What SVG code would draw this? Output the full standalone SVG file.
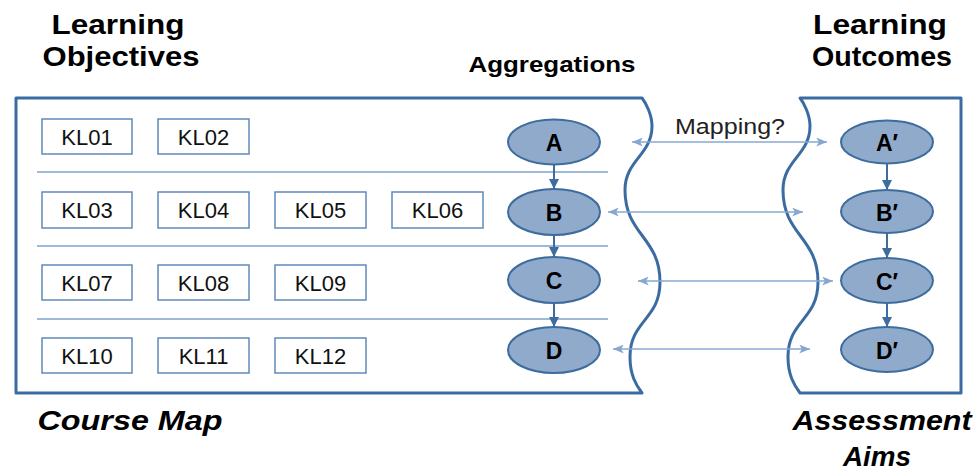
<svg xmlns="http://www.w3.org/2000/svg" width="973" height="473" viewBox="0 0 973 473">
  <style>
    .title { font-family: "Liberation Sans", Arial, sans-serif; font-weight: bold; font-size: 27px; fill: #000; text-anchor: middle; }
    .caption { font-family: "Liberation Sans", Arial, sans-serif; font-weight: bold; font-style: italic; font-size: 27px; fill: #000; text-anchor: middle; }
    .sub { font-family: "Liberation Sans", Arial, sans-serif; font-weight: bold; font-size: 22px; fill: #000; text-anchor: middle; }
    .frame { fill: none; stroke: #3b6ca1; stroke-width: 3; stroke-linejoin: round; }
    .sep { stroke: #7fa2cb; stroke-width: 1.5; }
    .kl rect { fill: #fff; stroke: #5f8aba; stroke-width: 1.5; }
    .kl text { font-family: "Liberation Sans", Arial, sans-serif; font-size: 22px; fill: #111; text-anchor: middle; }
    .agg ellipse { fill: #8faacb; stroke: #3d6c9e; stroke-width: 2; }
    .agg text { font-family: "Liberation Sans", Arial, sans-serif; font-weight: bold; font-size: 23px; fill: #000; text-anchor: middle; }
    .flow { stroke: #3d6c9e; stroke-width: 2; fill: none; marker-end: url(#head); }
    .map { stroke: #86a8d0; stroke-width: 1.5; fill: none; marker-start: url(#light); marker-end: url(#light); }
    .label { font-family: "Liberation Sans", Arial, sans-serif; font-size: 22px; fill: #222; }
  </style>
  <defs>
    <marker id="head" viewBox="0 0 10 10" refX="10" refY="5" markerWidth="10" markerHeight="10" markerUnits="userSpaceOnUse" orient="auto">
      <path d="M0,0 L10,5 L0,10 z" fill="#3d6c9e"/>
    </marker>
    <marker id="light" viewBox="0 0 12 10" refX="12" refY="5" markerWidth="12" markerHeight="9" markerUnits="userSpaceOnUse" orient="auto-start-reverse">
      <path d="M0,0 L12,5 L0,10 L3,5 z" fill="#86a8d0"/>
    </marker>
  </defs>

  <!-- headings -->
  <g id="headings">
    <text class="title" x="118" y="34" textLength="133" lengthAdjust="spacingAndGlyphs">Learning</text>
    <text class="title" x="121" y="66" textLength="157" lengthAdjust="spacingAndGlyphs">Objectives</text>
    <text class="sub" x="552" y="72" textLength="167" lengthAdjust="spacingAndGlyphs">Aggregations</text>
    <text class="title" x="880" y="34" textLength="134" lengthAdjust="spacingAndGlyphs">Learning</text>
    <text class="title" x="882" y="66" textLength="140" lengthAdjust="spacingAndGlyphs">Outcomes</text>
    <text class="caption" x="130" y="430" textLength="185" lengthAdjust="spacingAndGlyphs">Course Map</text>
    <text class="caption" x="882" y="430" textLength="179" lengthAdjust="spacingAndGlyphs">Assessment</text>
    <text class="caption" x="877" y="466" textLength="68" lengthAdjust="spacingAndGlyphs">Aims</text>
  </g>

  <!-- course map frame with torn right edge -->
  <g id="course-map">
    <path class="frame" d="M16,98 L642,98 C646,103 652,115 652,126 C652,155 625,160 625,190 C625,235 660,237 660,282 C660,320 630,320 630,357 C630,375 636,385 642,393 L16,393 Z"/>
    <line class="sep" x1="37" y1="172" x2="608" y2="172"/>
    <line class="sep" x1="37" y1="246" x2="608" y2="246"/>
    <line class="sep" x1="37" y1="319" x2="608" y2="319"/>
  </g>

  <!-- assessment frame with torn left edge -->
  <g id="assessment-aims">
    <path class="frame" d="M961,98 L800,98 C804,103 810,115 810,126 C810,155 783,160 783,190 C783,235 818,237 818,282 C818,320 788,320 788,357 C788,375 794,385 800,393 L961,393 Z"/>
  </g>

  <!-- learning objectives -->
  <g id="KL01" class="kl"><rect x="42" y="119" width="90" height="35"/><text x="87" y="145">KL01</text></g>
  <g id="KL02" class="kl"><rect x="158" y="119" width="91" height="35"/><text x="203.5" y="145">KL02</text></g>
  <g id="KL03" class="kl"><rect x="42" y="192" width="90" height="36"/><text x="87" y="218">KL03</text></g>
  <g id="KL04" class="kl"><rect x="158" y="192" width="91" height="36"/><text x="203.5" y="218">KL04</text></g>
  <g id="KL05" class="kl"><rect x="275" y="192" width="91" height="36"/><text x="320.5" y="218">KL05</text></g>
  <g id="KL06" class="kl"><rect x="392" y="192" width="91" height="36"/><text x="437.5" y="218">KL06</text></g>
  <g id="KL07" class="kl"><rect x="42" y="265" width="90" height="35"/><text x="87" y="291">KL07</text></g>
  <g id="KL08" class="kl"><rect x="158" y="265" width="91" height="35"/><text x="203.5" y="291">KL08</text></g>
  <g id="KL09" class="kl"><rect x="275" y="265" width="91" height="35"/><text x="320.5" y="291">KL09</text></g>
  <g id="KL10" class="kl"><rect x="42" y="338" width="90" height="35"/><text x="87" y="364">KL10</text></g>
  <g id="KL11" class="kl"><rect x="158" y="338" width="91" height="35"/><text x="203.5" y="364">KL11</text></g>
  <g id="KL12" class="kl"><rect x="275" y="338" width="91" height="35"/><text x="320.5" y="364">KL12</text></g>

  <!-- aggregations -->
  <g id="A" class="agg"><ellipse cx="554" cy="142" rx="46" ry="22.5"/><text x="554" y="151">A</text></g>
  <g id="B" class="agg"><ellipse cx="554" cy="212" rx="46" ry="23"/><text x="554" y="221">B</text></g>
  <g id="C" class="agg"><ellipse cx="554" cy="280" rx="46" ry="23"/><text x="554" y="289">C</text></g>
  <g id="D" class="agg"><ellipse cx="554" cy="350" rx="46" ry="23"/><text x="554" y="359">D</text></g>

  <!-- learning outcomes -->
  <g id="A-prime" class="agg"><ellipse cx="887" cy="142" rx="46" ry="21.5"/><text x="887" y="151">A′</text></g>
  <g id="B-prime" class="agg"><ellipse cx="887" cy="211.5" rx="46" ry="21.5"/><text x="887" y="220.5">B′</text></g>
  <g id="C-prime" class="agg"><ellipse cx="887" cy="280.5" rx="46" ry="22.5"/><text x="887" y="289.5">C′</text></g>
  <g id="D-prime" class="agg"><ellipse cx="887" cy="349.5" rx="46" ry="22.5"/><text x="887" y="358.5">D′</text></g>

  <!-- connectors -->
  <g id="connectors">
    <line class="flow" x1="554" y1="165" x2="554" y2="189"/>
    <line class="flow" x1="554" y1="235" x2="554" y2="257"/>
    <line class="flow" x1="554" y1="303" x2="554" y2="327"/>
    <line class="flow" x1="887" y1="164" x2="887" y2="190"/>
    <line class="flow" x1="887" y1="233" x2="887" y2="258"/>
    <line class="flow" x1="887" y1="303" x2="887" y2="327"/>
    <line class="map" x1="632" y1="142" x2="827" y2="142"/>
    <line class="map" x1="608" y1="212" x2="803" y2="212"/>
    <line class="map" x1="638" y1="281" x2="833" y2="281"/>
    <line class="map" x1="613" y1="349" x2="810" y2="349"/>
    <text class="label" x="675" y="134" textLength="110" lengthAdjust="spacingAndGlyphs">Mapping?</text>
  </g>
</svg>
